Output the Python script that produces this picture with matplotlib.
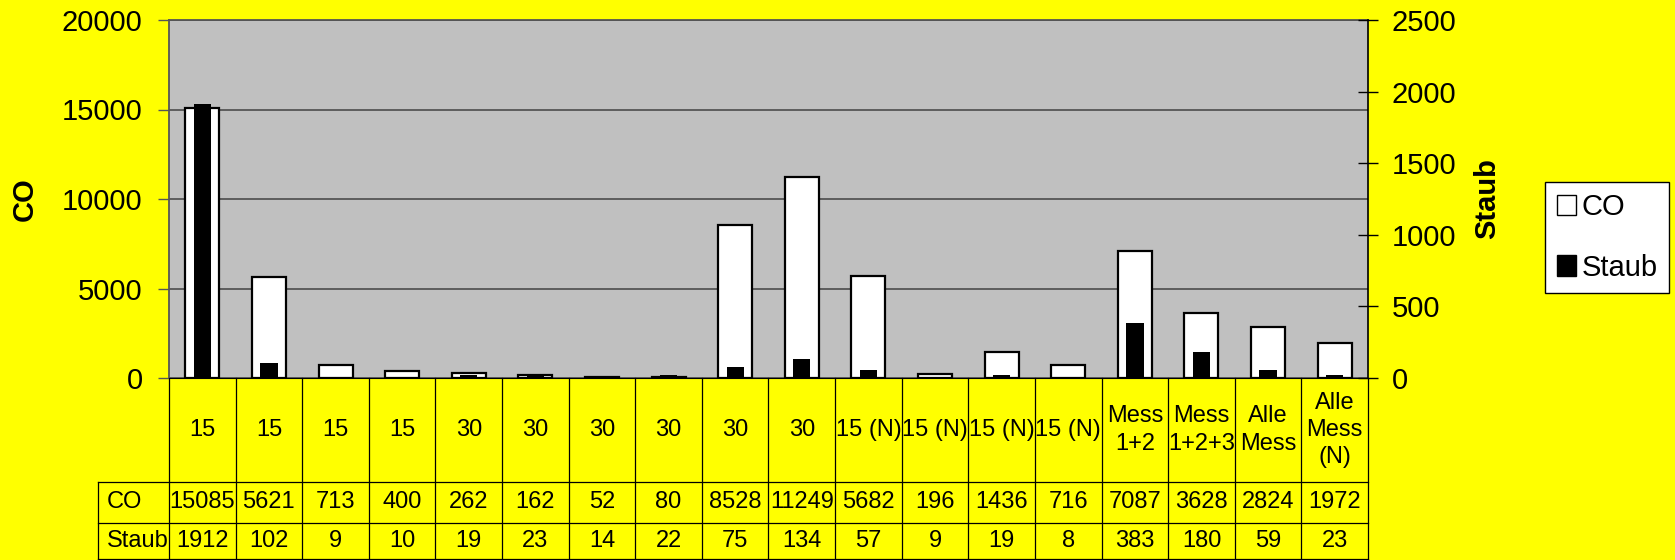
import numpy as np
import matplotlib.pyplot as plt
import matplotlib.transforms as mtransforms
from matplotlib.patches import Patch

categories = ['15', '15', '15', '15', '30', '30', '30', '30', '30', '30',
              '15 (N)', '15 (N)', '15 (N)', '15 (N)', 'Mess\n1+2', 'Mess\n1+2+3',
              'Alle\nMess', 'Alle\nMess\n(N)']
co_values = [15085, 5621, 713, 400, 262, 162, 52, 80, 8528, 11249,
             5682, 196, 1436, 716, 7087, 3628, 2824, 1972]
staub_values = [1912, 102, 9, 10, 19, 23, 14, 22, 75, 134,
                57, 9, 19, 8, 383, 180, 59, 23]
row_labels = ['CO', 'Staub']
co_ticks = [0, 5000, 10000, 15000, 20000]
staub_ticks = [0, 500, 1000, 1500, 2000, 2500]


def main():
    plt.rcParams['font.family'] = ['Liberation Sans', 'DejaVu Sans']

    fig = plt.figure(figsize=(16.75, 5.6), dpi=100, facecolor='#FFFF00')
    ax = fig.add_axes([169 / 1675, 182 / 560, 1199 / 1675, 358 / 560])
    ax.set_facecolor('#C0C0C0')
    ax2 = ax.twinx()

    n = len(categories)
    x = np.arange(n)

    ax.bar(x, co_values, width=0.51, color='white', edgecolor='black', linewidth=1.6, zorder=2)
    ax2.bar(x, staub_values, width=0.26, color='black', linewidth=0, zorder=2)

    ax.set_xlim(-0.5, n - 0.5)
    ax.set_ylim(0, 20000)
    ax2.set_ylim(0, 2500)
    ax.set_yticks(co_ticks)
    ax2.set_yticks(staub_ticks)
    ax.set_xticks([])

    ax.set_axisbelow(True)
    ax.yaxis.grid(True, color='#555555', linewidth=1.3)

    ax.tick_params(axis='y', direction='out', length=8, width=1, color='#555555',
                   pad=11, labelsize=21)
    ax2.tick_params(axis='y', direction='inout', length=14, width=1, color='black',
                    pad=10, labelsize=21)

    for s in ['left', 'top']:
        ax.spines[s].set_color('#555555')
        ax.spines[s].set_linewidth(1.3)
    ax.spines['right'].set_visible(False)
    ax.spines['bottom'].set_color('black')
    for s in ['left', 'top', 'bottom']:
        ax2.spines[s].set_visible(False)
    ax2.spines['right'].set_color('black')
    ax2.spines['right'].set_linewidth(1.2)

    ax.set_ylabel('CO', fontsize=21, fontweight='bold', va='center')
    ax.yaxis.set_label_coords(-0.120, 0.5)
    ax2.set_ylabel('Staub', fontsize=21, fontweight='bold', va='center')
    ax2.yaxis.set_label_coords(1.099, 0.5)

    # data table below the plot
    trans = mtransforms.blended_transform_factory(ax.transData, ax.transAxes)
    y_cat_bottom, y_co_bottom, y_st_bottom = -0.2905, -0.405, -0.5056
    x_label_left = -0.5 - 71 / 66.6
    line_kw = dict(transform=trans, clip_on=False, color='black', linewidth=0.9)
    for k in range(n + 1):
        ax.plot([k - 0.5, k - 0.5], [0, y_st_bottom], **line_kw)
    ax.plot([x_label_left, x_label_left], [y_cat_bottom, y_st_bottom], **line_kw)
    for yy in [y_cat_bottom, y_co_bottom, y_st_bottom]:
        ax.plot([x_label_left, n - 0.5], [yy, yy], **line_kw)

    for i in range(n):
        ax.text(i, -0.1453, categories[i], transform=trans, ha='center', va='center',
                fontsize=17, linespacing=1.3)
        ax.text(i, (y_cat_bottom + y_co_bottom) / 2, str(co_values[i]), transform=trans,
                ha='center', va='center', fontsize=17)
        ax.text(i, (y_co_bottom + y_st_bottom) / 2, str(staub_values[i]), transform=trans,
                ha='center', va='center', fontsize=17)
    for label, yy in zip(row_labels, [(y_cat_bottom + y_co_bottom) / 2,
                                      (y_co_bottom + y_st_bottom) / 2]):
        ax.text(x_label_left + 9 / 66.6, yy, label, transform=trans, ha='left',
                va='center', fontsize=17)

    handles = [Patch(facecolor='white', edgecolor='black', label='CO'),
               Patch(facecolor='black', edgecolor='black', label='Staub')]
    leg = fig.legend(handles=handles, loc='center left',
                     bbox_to_anchor=(1545 / 1675, 1 - 237.5 / 560),
                     fontsize=21, frameon=True, fancybox=False, edgecolor='black',
                     framealpha=1, handlelength=0.65, handleheight=0.7, handletextpad=0.2,
                     labelspacing=1.1, borderpad=0.4, borderaxespad=0)
    leg.get_frame().set_linewidth(1.0)

    fig.savefig('out.png', dpi=100, facecolor=fig.get_facecolor())


if __name__ == '__main__':
    main()
